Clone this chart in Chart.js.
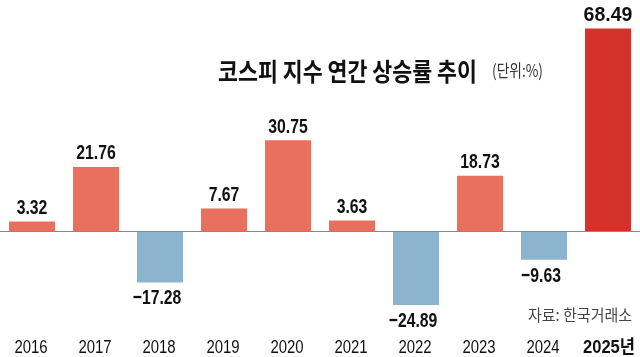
<!DOCTYPE html>
<html>
<head>
<meta charset="utf-8">
<script src="https://cdn.jsdelivr.net/npm/chart.js@4/dist/chart.umd.min.js"></script>
<style>
html,body{margin:0;padding:0;background:#fff;}
#wrap{width:640px;height:357px;position:relative;}
</style>
</head>
<body>
<div id="wrap"><canvas id="c" width="640" height="357"></canvas></div>
<script>
const years = ['2016','2017','2018','2019','2020','2021','2022','2023','2024','2025년'];
const rates = [3.32, 21.76, -17.28, 7.67, 30.75, 3.63, -24.89, 18.73, -9.63, 68.49];
const titleText = '코스피 지수 연간 상승률 추이';
const unitText = '(단위:%)';
const sourceText = '자료: 한국거래소';

const POS = '#E9705F', LAST = '#D5322C', NEG = '#8CB4CE';
const SANS = '"Liberation Sans", Arial, "Noto Sans CJK KR", sans-serif';
const CJK = '"Noto Sans CJK KR", sans-serif';

function fmt(v){ return (v < 0 ? '\u2212' : '') + Math.abs(v).toFixed(2); }

function scaledText(ctx, text, x, y, sx, align){
  ctx.save();
  ctx.translate(x, y);
  ctx.scale(sx, 1);
  ctx.textAlign = align || 'left';
  ctx.fillText(text, 0, 0);
  ctx.restore();
}
function fitText(ctx, text, x, y, width, align){
  scaledText(ctx, text, x, y, width / ctx.measureText(text).width, align);
}

const deco = {
  id: 'deco',
  afterDatasetsDraw(chart){
    const ctx = chart.ctx;
    const y = chart.scales.y;
    const x = chart.scales.x;
    const z = Math.round(y.getPixelForValue(0)) + 0.5;
    ctx.save();
    ctx.strokeStyle = '#8a8a8a';
    ctx.lineWidth = 1;
    ctx.beginPath();
    ctx.moveTo(0, z); ctx.lineTo(chart.width, z);
    ctx.stroke();

    // value labels
    const meta = chart.getDatasetMeta(0);
    ctx.fillStyle = '#111';
    ctx.textBaseline = 'alphabetic';
    meta.data.forEach((bar, i) => {
      const v = rates[i];
      const last = i === rates.length - 1;
      ctx.font = 'bold 21px ' + SANS;
      const t = fmt(v);
      const sx = last ? 0.93 : 0.75;
      if (v >= 0) scaledText(ctx, t, bar.x, bar.y - 7.5, sx, 'center');
      else scaledText(ctx, t, bar.x - 3, bar.y + 22, sx, 'center');
    });

    // category labels
    years.forEach((lab, i) => {
      const px = x.getPixelForValue(i);
      const last = i === years.length - 1;
      ctx.fillStyle = '#111';
      ctx.font = (last ? 'bold ' : '') + '18px ' + SANS;
      if (last) fitText(ctx, lab, px + 1, 353, 52, 'center');
      else scaledText(ctx, lab, px - 1, 353, 0.83, 'center');
    });

    // title, unit, source
    ctx.textBaseline = 'middle';
    ctx.fillStyle = '#111';
    ctx.font = 'bold 25px ' + CJK;
    fitText(ctx, titleText, 218, 71, 259, 'left');
    ctx.fillStyle = '#333';
    ctx.font = '17px ' + CJK;
    fitText(ctx, unitText, 492, 71, 51, 'left');
    ctx.fillStyle = '#444';
    ctx.font = '16px ' + CJK;
    fitText(ctx, sourceText, 632, 315, 104, 'right');
    ctx.restore();
  }
};

new Chart(document.getElementById('c'), {
  type: 'bar',
  data: {
    labels: years,
    datasets: [{
      data: rates,
      backgroundColor: rates.map((v, i) => i === rates.length - 1 ? LAST : (v < 0 ? NEG : POS)),
      borderWidth: 0,
      barPercentage: 0.72,
      categoryPercentage: 1
    }]
  },
  options: {
    responsive: false,
    animation: false,
    devicePixelRatio: 1,
    layout: { padding: { left: 0, right: 0, top: 0, bottom: 32 } },
    plugins: { legend: { display: false }, tooltip: { enabled: false }, title: { display: false } },
    scales: {
      x: {
        display: true,
        grid: { display: false, drawTicks: false },
        border: { display: false },
        ticks: { display: false }
      },
      y: {
        display: false,
        min: -31.66,
        max: 78.14
      }
    }
  },
  plugins: [deco]
});
</script>
</body>
</html>
